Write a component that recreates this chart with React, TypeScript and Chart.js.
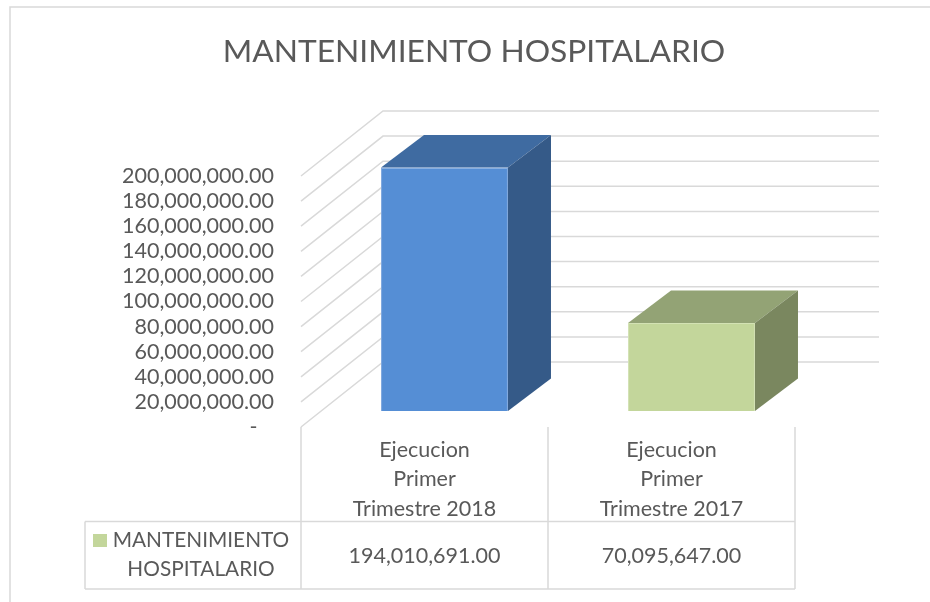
import React, { useEffect, useRef } from "react";
import { Chart, registerables } from "chart.js";

Chart.register(...registerables);

const titleText = "MANTENIMIENTO HOSPITALARIO";
const categories = [
  ["Ejecucion", "Primer", "Trimestre 2018"],
  ["Ejecucion", "Primer", "Trimestre 2017"],
];
const seriesName = ["MANTENIMIENTO", "HOSPITALARIO"];
const seriesValues = [194010691, 70095647];
const yTickValues = [0, 20000000, 40000000, 60000000, 80000000, 100000000, 120000000, 140000000, 160000000, 180000000, 200000000];

const frontColors = ["#558ED5", "#C3D69B"];
const edgeColors = ["#7FA8DF", "#D3E2B4"];
const topColors = ["#3F6BA1", "#93A375"];
const sideColors = ["#355A88", "#7A875F"];
const textColor = "#595959";
const lineColor = "#D9D9D9";
const fontFamily = "Lato, Carlito, sans-serif";

const DEPTH_X = 82;
const DEPTH_Y = -65;
const BAR_SHIFT_X = 20;
const BAR_SHIFT_Y = -16;
const BAR_DEPTH_X = 43;
const BAR_DEPTH_Y = -32.5;
const WALL_RIGHT = 879;

const fmt = (v: number) =>
  v.toLocaleString("en-US", { minimumFractionDigits: 2, maximumFractionDigits: 2 });

const line = (ctx: CanvasRenderingContext2D, pts: number[][]) => {
  ctx.beginPath();
  pts.forEach((p, i) => (i ? ctx.lineTo(p[0], p[1]) : ctx.moveTo(p[0], p[1])));
  ctx.stroke();
};

const poly = (ctx: CanvasRenderingContext2D, pts: number[][], fill: string) => {
  ctx.beginPath();
  pts.forEach((p, i) => (i ? ctx.lineTo(p[0], p[1]) : ctx.moveTo(p[0], p[1])));
  ctx.closePath();
  ctx.fillStyle = fill;
  ctx.fill();
};

const scene3d = {
  id: "scene3d",
  beforeDatasetsDraw(chart: any) {
    const { ctx, scales } = chart;
    const left = chart.chartArea.left;
    ctx.save();
    ctx.strokeStyle = lineColor;
    ctx.lineWidth = 1.5;
    yTickValues.forEach((v) => {
      const y = scales.y.getPixelForValue(v);
      line(ctx, [
        [left, y],
        [left + DEPTH_X, y + DEPTH_Y],
        [WALL_RIGHT, y + DEPTH_Y],
      ]);
    });
    ctx.restore();
    ctx.save();
    ctx.translate(BAR_SHIFT_X, BAR_SHIFT_Y);
  },
  afterDatasetsDraw(chart: any) {
    const { ctx } = chart;
    const bars = chart.getDatasetMeta(0).data;
    bars.forEach((bar: any, i: number) => {
      const props = bar.getProps(["x", "y", "base", "width"], true);
      const l = props.x - props.width / 2;
      const r = props.x + props.width / 2;
      const t = props.y;
      const b = props.base;
      poly(ctx, [[l, t], [r, t], [r + BAR_DEPTH_X, t + BAR_DEPTH_Y], [l + BAR_DEPTH_X, t + BAR_DEPTH_Y]], topColors[i]);
      poly(ctx, [[r, t], [r + BAR_DEPTH_X, t + BAR_DEPTH_Y], [r + BAR_DEPTH_X, b + BAR_DEPTH_Y], [r, b]], sideColors[i]);
    });
    ctx.restore();
  },
  afterDraw(chart: any) {
    const { ctx, scales } = chart;
    const left = chart.chartArea.left;
    const bottom = chart.chartArea.bottom;
    const right = chart.chartArea.right;
    const tableLeft = 85;
    const rowTop = 521.5;
    const rowBottom = 589;
    const mid = scales.x.getPixelForValue(1) - (scales.x.getPixelForValue(1) - scales.x.getPixelForValue(0)) / 2;

    ctx.save();
    ctx.strokeStyle = lineColor;
    ctx.lineWidth = 1.5;
    // chart frame
    line(ctx, [[10, 602], [10, 7], [930, 7]]);
    // data table
    line(ctx, [[left, bottom], [left, rowBottom]]);
    line(ctx, [[mid, bottom], [mid, rowBottom]]);
    line(ctx, [[right, bottom], [right, rowBottom]]);
    line(ctx, [[tableLeft, rowTop], [right, rowTop]]);
    line(ctx, [[tableLeft, rowBottom], [right, rowBottom]]);
    line(ctx, [[tableLeft, rowTop], [tableLeft, rowBottom]]);

    ctx.fillStyle = frontColors[1];
    ctx.fillRect(93, 534, 14, 13);

    ctx.fillStyle = textColor;
    ctx.textAlign = "center";
    ctx.textBaseline = "middle";
    ctx.font = `20.8px ${fontFamily}`;
    ctx.fillText(seriesName[0], 201, 540.5);
    ctx.fillText(seriesName[1], 201, 569.5);
    ctx.font = `21.5px ${fontFamily}`;
    seriesValues.forEach((v, i) => {
      ctx.fillText(fmt(v), scales.x.getPixelForValue(i), 556.5);
    });
    ctx.restore();
  },
};

export default function App() {
  const ref = useRef<HTMLCanvasElement>(null);
  useEffect(() => {
    const chart = new Chart(ref.current as HTMLCanvasElement, {
      type: "bar",
      data: {
        labels: categories,
        datasets: [
          {
            label: seriesName.join(" "),
            data: seriesValues,
            backgroundColor: frontColors,
            borderColor: edgeColors,
            borderWidth: 1,
            barPercentage: 0.514,
            categoryPercentage: 1,
            yAxisID: "y",
          },
        ],
      },
      options: {
        responsive: false,
        animation: false,
        layout: { padding: { left: 18, right: 0, top: 0, bottom: 0 } },
        plugins: {
          legend: { display: false },
          tooltip: { enabled: false },
          title: {
            display: true,
            text: titleText,
            color: textColor,
            font: { family: fontFamily, size: 31.75, weight: "normal", lineHeight: 1.2 },
            padding: { top: 33, bottom: 104.9 },
            align: "center",
          },
        },
        scales: {
          x: {
            grid: { display: false, drawTicks: false },
            border: { display: false },
            ticks: {
              color: textColor,
              font: { family: fontFamily, size: 21.5, lineHeight: 1.35 },
              padding: 9,
              maxRotation: 0,
              minRotation: 0,
              autoSkip: false,
            },
            afterFit(scale: any) {
              scale.height = 175;
            },
          },
          y: {
            min: 0,
            max: 200000000,
            grid: { display: false, drawTicks: false },
            border: { display: false },
            ticks: {
              stepSize: 20000000,
              autoSkip: false,
              color: textColor,
              font: { family: fontFamily, size: 21.5 },
              padding: 27,
              callback: (v: any) => (Number(v) === 0 ? "-\u00A0\u00A0\u00A0" : fmt(Number(v))),
            },
            afterFit(scale: any) {
              scale.width = 283;
            },
          },
          yRight: {
            position: "right",
            min: 0,
            max: 200000000,
            grid: { display: false, drawTicks: false },
            border: { display: false },
            ticks: { display: false },
            afterFit(scale: any) {
              scale.width = 135;
            },
          },
        },
      },
      plugins: [scene3d],
    } as any);
    return () => chart.destroy();
  }, []);
  return (
    <div style={{ position: "absolute", left: 0, top: 0, width: 930, height: 602, background: "#fff" }}>
      <canvas ref={ref} width={930} height={602} style={{ display: "block" }} />
    </div>
  );
}
